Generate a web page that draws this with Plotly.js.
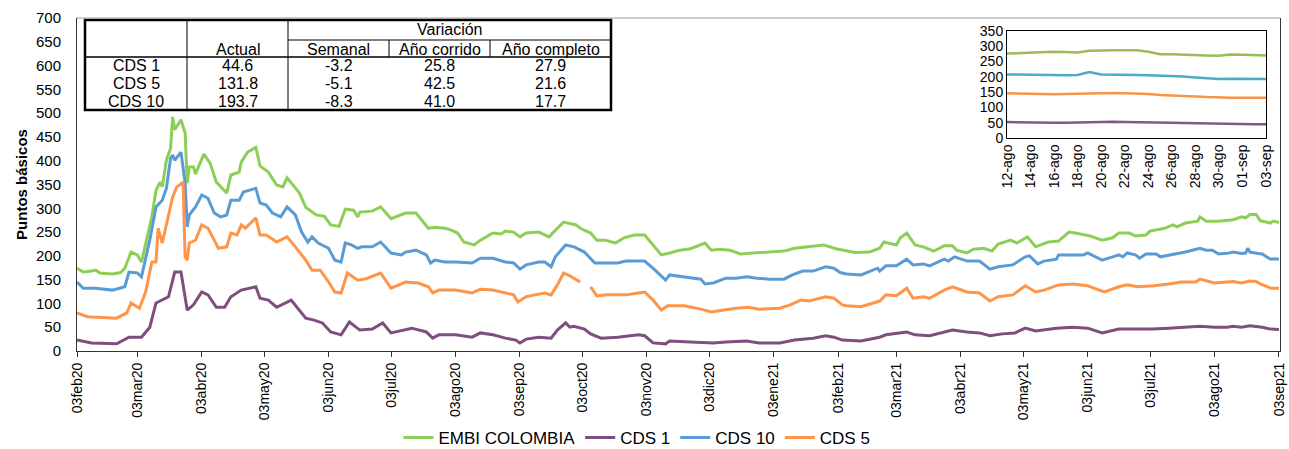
<!DOCTYPE html>
<html>
<head>
<meta charset="utf-8">
<script src="https://cdn.plot.ly/plotly-3.0.1.min.js"></script>
<style>html,body{margin:0;padding:0;background:#fff}#chart{width:1289px;height:449px}</style>
</head>
<body>
<div id="chart"></div>
<script>
// ---------------- DATA ----------------
const embiDates = ["2020-02-03","2020-02-06","2020-02-10","2020-02-12","2020-02-14","2020-02-20","2020-02-24","2020-02-26","2020-02-29","2020-03-03","2020-03-05","2020-03-07","2020-03-10","2020-03-12","2020-03-14","2020-03-15","2020-03-17","2020-03-19","2020-03-20","2020-03-21","2020-03-24","2020-03-26","2020-03-27","2020-03-28","2020-03-30","2020-03-31","2020-04-04","2020-04-07","2020-04-10","2020-04-15","2020-04-17","2020-04-21","2020-04-22","2020-04-25","2020-04-29","2020-05-01","2020-05-05","2020-05-09","2020-05-12","2020-05-14","2020-05-20","2020-05-23","2020-05-28","2020-06-01","2020-06-04","2020-06-08","2020-06-11","2020-06-15","2020-06-17","2020-06-18","2020-06-24","2020-06-28","2020-07-03","2020-07-10","2020-07-15","2020-07-21","2020-07-24","2020-07-29","2020-08-01","2020-08-04","2020-08-07","2020-08-12","2020-08-15","2020-08-21","2020-08-25","2020-08-27","2020-08-31","2020-09-03","2020-09-06","2020-09-12","2020-09-17","2020-09-21","2020-09-24","2020-09-30","2020-10-02","2020-10-07","2020-10-10","2020-10-14","2020-10-19","2020-10-23","2020-10-28","2020-11-02","2020-11-06","2020-11-10","2020-11-14","2020-11-19","2020-11-24","2020-12-01","2020-12-04","2020-12-08","2020-12-13","2020-12-18","2020-12-24","2021-01-01","2021-01-08","2021-01-13","2021-01-20","2021-01-27","2021-02-02","2021-02-11","2021-02-18","2021-02-23","2021-02-25","2021-03-03","2021-03-05","2021-03-08","2021-03-12","2021-03-16","2021-03-21","2021-03-26","2021-03-30","2021-04-01","2021-04-06","2021-04-09","2021-04-14","2021-04-18","2021-04-21","2021-04-27","2021-04-30","2021-05-05","2021-05-09","2021-05-15","2021-05-20","2021-05-25","2021-05-28","2021-06-04","2021-06-10","2021-06-15","2021-06-18","2021-06-23","2021-06-26","2021-07-01","2021-07-03","2021-07-10","2021-07-14","2021-07-16","2021-07-20","2021-07-26","2021-07-27","2021-07-30","2021-08-05","2021-08-12","2021-08-16","2021-08-18","2021-08-20","2021-08-23","2021-08-25","2021-08-28","2021-08-30","2021-08-31","2021-09-03"];
const embiValues = [174,166,168,170,164,162,165,174,208,202,187,227,282,338,355,345,401,426,492,465,486,458,353,387,387,372,414,395,355,332,370,376,397,418,428,389,376,349,345,364,332,302,286,283,265,262,298,296,282,292,294,303,278,290,290,258,260,258,254,248,229,223,233,248,246,252,250,240,248,250,240,258,271,265,258,248,233,233,227,238,244,244,223,202,206,212,215,227,212,214,212,204,206,208,210,216,219,223,215,207,208,216,229,223,238,248,223,219,210,221,221,212,206,214,216,210,225,233,227,240,219,229,231,250,248,242,233,238,248,248,242,244,252,258,265,261,269,273,282,273,273,276,282,280,287,287,274,271,269,273,270];

const cds1Dates = ["2020-02-03","2020-02-10","2020-02-22","2020-02-28","2020-03-05","2020-03-09","2020-03-12","2020-03-18","2020-03-21","2020-03-24","2020-03-27","2020-03-30","2020-04-03","2020-04-06","2020-04-10","2020-04-14","2020-04-17","2020-04-22","2020-04-29","2020-05-01","2020-05-05","2020-05-09","2020-05-16","2020-05-19","2020-05-23","2020-05-27","2020-05-31","2020-06-04","2020-06-09","2020-06-13","2020-06-18","2020-06-24","2020-06-29","2020-07-03","2020-07-13","2020-07-20","2020-07-23","2020-07-26","2020-08-03","2020-08-11","2020-08-15","2020-08-21","2020-08-27","2020-09-01","2020-09-03","2020-09-06","2020-09-12","2020-09-18","2020-09-21","2020-09-25","2020-09-27","2020-09-29","2020-10-04","2020-10-07","2020-10-12","2020-10-20","2020-10-30","2020-11-02","2020-11-06","2020-11-12","2020-11-14","2020-11-24","2020-12-05","2020-12-11","2020-12-21","2020-12-27","2021-01-06","2021-01-13","2021-01-22","2021-01-28","2021-02-01","2021-02-05","2021-02-14","2021-02-23","2021-02-26","2021-03-08","2021-03-12","2021-03-19","2021-03-26","2021-03-30","2021-04-06","2021-04-12","2021-04-17","2021-04-23","2021-04-29","2021-05-04","2021-05-09","2021-05-19","2021-05-27","2021-06-03","2021-06-10","2021-06-18","2021-06-26","2021-07-04","2021-07-12","2021-07-18","2021-07-27","2021-08-03","2021-08-09","2021-08-12","2021-08-16","2021-08-20","2021-08-23","2021-08-26","2021-08-28","2021-08-30","2021-09-03"];
const cds1Values = [23,17,15,29,29,50,101,114,166,166,86,97,124,118,92,92,114,128,135,111,107,92,107,90,69,65,59,40,34,61,44,46,59,38,48,40,27,34,34,29,38,34,27,23,17,25,29,27,44,59,50,52,46,36,27,29,34,32,17,15,21,19,17,19,21,17,17,23,27,32,29,23,21,29,34,40,34,32,40,44,40,38,32,36,38,48,42,48,50,48,38,46,46,46,48,50,52,50,50,52,50,53,52,50,48,46,45];

const cds10Dates = ["2020-02-03","2020-02-06","2020-02-12","2020-02-20","2020-02-26","2020-02-28","2020-03-03","2020-03-05","2020-03-09","2020-03-12","2020-03-15","2020-03-17","2020-03-19","2020-03-20","2020-03-21","2020-03-24","2020-03-26","2020-03-27","2020-03-28","2020-03-31","2020-04-03","2020-04-06","2020-04-09","2020-04-12","2020-04-15","2020-04-17","2020-04-21","2020-04-23","2020-04-29","2020-05-01","2020-05-04","2020-05-07","2020-05-11","2020-05-14","2020-05-18","2020-05-21","2020-05-24","2020-05-26","2020-05-29","2020-06-03","2020-06-06","2020-06-09","2020-06-11","2020-06-14","2020-06-17","2020-06-19","2020-06-24","2020-06-28","2020-07-03","2020-07-08","2020-07-10","2020-07-15","2020-07-20","2020-07-22","2020-07-24","2020-07-29","2020-08-03","2020-08-11","2020-08-15","2020-08-21","2020-08-27","2020-08-31","2020-09-03","2020-09-06","2020-09-12","2020-09-15","2020-09-18","2020-09-20","2020-09-25","2020-09-29","2020-10-04","2020-10-09","2020-10-14","2020-10-20","2020-10-24","2020-11-02","2020-11-07","2020-11-12","2020-11-14","2020-11-21","2020-11-29","2020-12-01","2020-12-05","2020-12-11","2020-12-16","2020-12-21","2020-12-26","2021-01-01","2021-01-08","2021-01-12","2021-01-17","2021-01-22","2021-01-28","2021-02-01","2021-02-04","2021-02-07","2021-02-14","2021-02-22","2021-02-23","2021-02-26","2021-03-03","2021-03-08","2021-03-11","2021-03-16","2021-03-19","2021-03-26","2021-03-28","2021-03-31","2021-04-06","2021-04-12","2021-04-17","2021-04-21","2021-04-28","2021-05-04","2021-05-06","2021-05-10","2021-05-13","2021-05-19","2021-05-20","2021-05-25","2021-06-01","2021-06-03","2021-06-10","2021-06-15","2021-06-18","2021-06-20","2021-06-22","2021-06-26","2021-06-28","2021-07-01","2021-07-06","2021-07-08","2021-07-13","2021-07-20","2021-07-27","2021-07-30","2021-08-02","2021-08-05","2021-08-10","2021-08-12","2021-08-16","2021-08-18","2021-08-19","2021-08-20","2021-08-24","2021-08-26","2021-08-28","2021-08-30","2021-09-01","2021-09-03"];
const cds10Values = [145,132,132,128,135,166,164,156,233,303,317,342,405,412,401,418,353,261,286,303,328,321,290,282,286,317,317,334,342,311,307,290,282,303,286,250,229,240,227,216,191,187,227,223,216,219,219,229,206,202,208,212,202,185,191,187,187,185,195,195,187,185,172,181,187,187,177,198,223,219,208,185,185,185,189,189,170,149,160,156,151,141,143,153,153,156,153,151,151,160,168,168,177,174,165,162,160,174,168,179,179,193,181,183,179,193,189,198,189,189,172,177,181,198,200,183,189,193,202,202,202,206,191,198,202,198,206,202,195,204,204,198,202,208,216,212,212,204,206,208,205,206,216,208,205,204,198,193,194,193];

const cds5Dates = ["2020-02-03","2020-02-08","2020-02-22","2020-02-27","2020-02-29","2020-03-04","2020-03-07","2020-03-10","2020-03-12","2020-03-13","2020-03-15","2020-03-17","2020-03-20","2020-03-22","2020-03-25","2020-03-26","2020-03-27","2020-03-28","2020-03-31","2020-04-03","2020-04-06","2020-04-09","2020-04-11","2020-04-15","2020-04-17","2020-04-20","2020-04-22","2020-04-24","2020-04-29","2020-05-01","2020-05-04","2020-05-09","2020-05-14","2020-05-18","2020-05-23","2020-05-26","2020-05-30","2020-06-03","2020-06-06","2020-06-09","2020-06-12","2020-06-17","2020-06-21","2020-06-28","2020-07-03","2020-07-10","2020-07-16","2020-07-21","2020-07-23","2020-07-26","2020-08-03","2020-08-11","2020-08-15","2020-08-21","2020-08-27","2020-08-31","2020-09-02","2020-09-06","2020-09-10","2020-09-15","2020-09-18","2020-09-21","2020-09-24","2020-09-27","2020-10-02","2020-10-05","2020-10-07","2020-10-10","2020-10-15","2020-10-20","2020-10-24","2020-10-30","2020-11-02","2020-11-06","2020-11-10","2020-11-13","2020-11-21","2020-11-29","2020-12-04","2020-12-10","2020-12-16","2020-12-22","2020-12-27","2021-01-06","2021-01-11","2021-01-16","2021-01-20","2021-01-28","2021-02-01","2021-02-05","2021-02-07","2021-02-14","2021-02-22","2021-02-23","2021-02-26","2021-03-03","2021-03-08","2021-03-11","2021-03-16","2021-03-19","2021-03-26","2021-03-30","2021-04-06","2021-04-12","2021-04-17","2021-04-21","2021-04-28","2021-05-04","2021-05-09","2021-05-13","2021-05-20","2021-05-27","2021-06-03","2021-06-11","2021-06-18","2021-06-22","2021-06-27","2021-07-05","2021-07-12","2021-07-18","2021-07-25","2021-07-27","2021-08-03","2021-08-09","2021-08-12","2021-08-16","2021-08-20","2021-08-23","2021-08-25","2021-08-28","2021-08-30","2021-09-03"];
const cds5Values = [80,72,69,80,101,90,124,187,187,258,227,265,324,345,355,198,191,227,233,265,258,233,216,219,248,244,265,258,280,244,244,229,240,219,191,170,170,145,124,122,164,149,152,164,132,145,143,135,122,128,128,122,130,128,122,118,103,114,118,122,118,139,164,158,145,null,135,116,118,118,118,122,124,107,86,95,95,88,82,86,90,92,88,90,97,107,105,114,111,97,95,93,105,105,118,116,132,111,114,111,128,135,124,122,105,114,118,137,124,128,139,141,137,124,135,139,135,137,141,145,145,151,143,145,146,143,147,146,141,136,132,132];

// inset: 12-ago to 03-sep 2021
const insetDates = ["2021-08-12","2021-08-13","2021-08-14","2021-08-15","2021-08-16","2021-08-17","2021-08-18","2021-08-19","2021-08-20","2021-08-21","2021-08-22","2021-08-23","2021-08-24","2021-08-25","2021-08-26","2021-08-27","2021-08-28","2021-08-29","2021-08-30","2021-08-31","2021-09-01","2021-09-02","2021-09-03"];
const insetEmbi = [276,278,280,281,282,281,280,285,287,287,287,287,282,274,274,272,271,270,269,273,272,271,270];
const insetCds1 = [52,51,51,50,50,50,51,52,53,53,52,52,51,50,50,49,48,47,46,46,45,45,45];
const insetCds10 = [208,207,207,206,205,205,206,216,208,208,207,206,205,204,204,201,198,195,193,194,194,193,193];
const insetCds5 = [146,145,144,144,143,144,145,146,147,147,146,146,144,141,140,138,136,134,132,132,132,132,132];

const mainTickVals = ["2020-02-03","2020-03-03","2020-04-03","2020-05-03","2020-06-03","2020-07-03","2020-08-03","2020-09-03","2020-10-03","2020-11-03","2020-12-03","2021-01-03","2021-02-03","2021-03-03","2021-04-03","2021-05-03","2021-06-03","2021-07-03","2021-08-03","2021-09-03"];
const mainTickText = ["03feb20","03mar20","03abr20","03may20","03jun20","03jul20","03ago20","03sep20","03oct20","03nov20","03dic20","03ene21","03feb21","03mar21","03abr21","03may21","03jun21","03jul21","03ago21","03sep21"];
const insetTickVals = ["2021-08-12","2021-08-14","2021-08-16","2021-08-18","2021-08-20","2021-08-22","2021-08-24","2021-08-26","2021-08-28","2021-08-30","2021-09-01","2021-09-03"];
const insetTickText = ["12-ago","14-ago","16-ago","18-ago","20-ago","22-ago","24-ago","26-ago","28-ago","30-ago","01-sep","03-sep"];

// table
const tableRows = ["CDS 1","CDS 5","CDS 10"];
const tableActual = ["44.6","131.8","193.7"];
const tableSemanal = ["-3.2","-5.1","-8.3"];
const tableAnoCorrido = ["25.8","42.5","41.0"];
const tableAnoCompleto = ["27.9","21.6","17.7"];
const tableHeaders = ["Actual","Semanal","Año corrido","Año completo"];
const tableGroupHeader = "Variación";

// ---------------- STYLE / LAYOUT ----------------
const FONT = "Liberation Sans, Arial, sans-serif";
const W = 1289, H = 449, ML = 77, MR = 9, MT = 18, MB = 98;
const PW = W - ML - MR, PH = H - MT - MB;
const px = x => (x - ML) / PW;
const py = y => (H - MB - y) / PH;

const colMain = {embi:"#8DCF56", cds1:"#7D4E7E", cds10:"#5B9BD5", cds5:"#FF9548"};
const colInset = {embi:"#9BBB59", cds1:"#7F5A83", cds10:"#4BACC6", cds5:"#F79646"};

const traces = [
  {x: embiDates, y: embiValues, name: "EMBI COLOMBIA", type: "scatter", mode: "lines", line: {color: colMain.embi, width: 3}},
  {x: cds1Dates, y: cds1Values, name: "CDS 1", type: "scatter", mode: "lines", line: {color: colMain.cds1, width: 3}},
  {x: cds10Dates, y: cds10Values, name: "CDS 10", type: "scatter", mode: "lines", line: {color: colMain.cds10, width: 3}},
  {x: cds5Dates, y: cds5Values, name: "CDS 5", type: "scatter", mode: "lines", line: {color: colMain.cds5, width: 3}, connectgaps: false},
  {x: insetDates, y: insetEmbi, xaxis: "x2", yaxis: "y2", showlegend: false, type: "scatter", mode: "lines", line: {color: colInset.embi, width: 2.5}},
  {x: insetDates, y: insetCds10, xaxis: "x2", yaxis: "y2", showlegend: false, type: "scatter", mode: "lines", line: {color: colInset.cds10, width: 2.5}},
  {x: insetDates, y: insetCds5, xaxis: "x2", yaxis: "y2", showlegend: false, type: "scatter", mode: "lines", line: {color: colInset.cds5, width: 2.5}},
  {x: insetDates, y: insetCds1, xaxis: "x2", yaxis: "y2", showlegend: false, type: "scatter", mode: "lines", line: {color: colInset.cds1, width: 2.5}}
];

// table geometry (pixels)
const tX = [85, 187, 288, 389, 490, 611];
const tY = {top: 20, mid: 40, head: 57, bottom: 110};
const rowY = [65, 83, 101];
const shapes = [
  {type: "rect", xref: "paper", yref: "paper", x0: px(tX[0]), x1: px(tX[5]), y0: py(tY.bottom), y1: py(tY.top), line: {color: "#000", width: 2.5}, fillcolor: "#fff", layer: "above"},
  {type: "line", xref: "paper", yref: "paper", x0: px(tX[1]), x1: px(tX[1]), y0: py(tY.bottom), y1: py(tY.top), line: {color: "#000", width: 1}},
  {type: "line", xref: "paper", yref: "paper", x0: px(tX[2]), x1: px(tX[2]), y0: py(tY.bottom), y1: py(tY.top), line: {color: "#000", width: 1}},
  {type: "line", xref: "paper", yref: "paper", x0: px(tX[3]), x1: px(tX[3]), y0: py(tY.head), y1: py(tY.mid), line: {color: "#000", width: 1}},
  {type: "line", xref: "paper", yref: "paper", x0: px(tX[4]), x1: px(tX[4]), y0: py(tY.head), y1: py(tY.mid), line: {color: "#000", width: 1}},
  {type: "line", xref: "paper", yref: "paper", x0: px(tX[2]), x1: px(tX[5]), y0: py(tY.mid), y1: py(tY.mid), line: {color: "#000", width: 1}},
  {type: "line", xref: "paper", yref: "paper", x0: px(tX[0]), x1: px(tX[5]), y0: py(tY.head), y1: py(tY.head), line: {color: "#000", width: 1.5}},
  {type: "line", xref: "paper", yref: "paper", x0: 0, x1: 1, y0: 1, y1: 1, line: {color: "#999", width: 1}}
];

const annotations = [];
const tf = {family: FONT, size: 16, color: "#000"};
const colCenter = i => px((tX[i] + tX[i + 1]) / 2);
annotations.push({xref: "paper", yref: "paper", x: px((tX[2] + tX[5]) / 2), y: py((tY.top + tY.mid) / 2), text: tableGroupHeader, showarrow: false, font: tf, xanchor: "center", yanchor: "middle"});
tableHeaders.forEach((h, i) => annotations.push({xref: "paper", yref: "paper", x: colCenter(i + 1), y: py((tY.mid + tY.head) / 2 + 1), text: h, showarrow: false, font: tf, xanchor: "center", yanchor: "middle"}));
const cols = [tableRows, tableActual, tableSemanal, tableAnoCorrido, tableAnoCompleto];
cols.forEach((col, ci) => col.forEach((v, ri) => annotations.push({xref: "paper", yref: "paper", x: colCenter(ci), y: py(rowY[ri]), text: v, showarrow: false, font: tf, xanchor: "center", yanchor: "middle"})));

const layout = {
  width: W, height: H,
  margin: {l: ML, r: MR, t: MT, b: MB, autoexpand: false},
  paper_bgcolor: "#fff", plot_bgcolor: "#fff",
  font: {family: FONT, size: 14, color: "#000"},
  showlegend: true,
  legend: {orientation: "h", xref: "paper", x: px(637), xanchor: "center", yref: "container", y: 1 - 438 / H, yanchor: "middle", font: {family: FONT, size: 17, color: "#000"}, bgcolor: "rgba(0,0,0,0)", itemwidth: 30},
  xaxis: {
    type: "date", range: ["2020-02-03", "2021-09-03 12:00"], domain: [0, 1],
    tickmode: "array", tickvals: mainTickVals, ticktext: mainTickText, tickangle: -90,
    ticks: "outside", ticklen: 5, tickcolor: "#333", showline: true, linecolor: "#333", linewidth: 1,
    showgrid: false, zeroline: false, tickfont: {family: FONT, size: 14, color: "#000"}, automargin: false
  },
  yaxis: {
    range: [0, 700], tick0: 0, dtick: 50, showline: true, linecolor: "#333", linewidth: 1, mirror: true,
    ticks: "", ticklabelstandoff: 12, showgrid: false, zeroline: false, tickfont: {family: FONT, size: 15, color: "#000"},
    title: {text: "Puntos básicos", font: {family: FONT, size: 15, color: "#000", weight: "bold"}, standoff: 4},
    automargin: false
  },
  xaxis2: {
    type: "date", range: ["2021-08-12", "2021-09-03"], domain: [px(1007), px(1266)], anchor: "y2",
    tickmode: "array", tickvals: insetTickVals, ticktext: insetTickText, tickangle: -90, ticks: "",
    showline: true, mirror: true, linecolor: "#000", linewidth: 1, showgrid: false, zeroline: false,
    tickfont: {family: FONT, size: 14, color: "#000"}, automargin: false
  },
  yaxis2: {
    range: [0, 350], tick0: 0, dtick: 50, domain: [py(138), py(31)], anchor: "x2",
    showline: true, mirror: true, linecolor: "#000", linewidth: 1, ticks: "", showgrid: false, zeroline: false,
    tickfont: {family: FONT, size: 14, color: "#000"}, automargin: false
  },
  shapes: shapes,
  annotations: annotations
};

Plotly.newPlot("chart", traces, layout, {displayModeBar: false, staticPlot: true});
</script>
</body>
</html>
